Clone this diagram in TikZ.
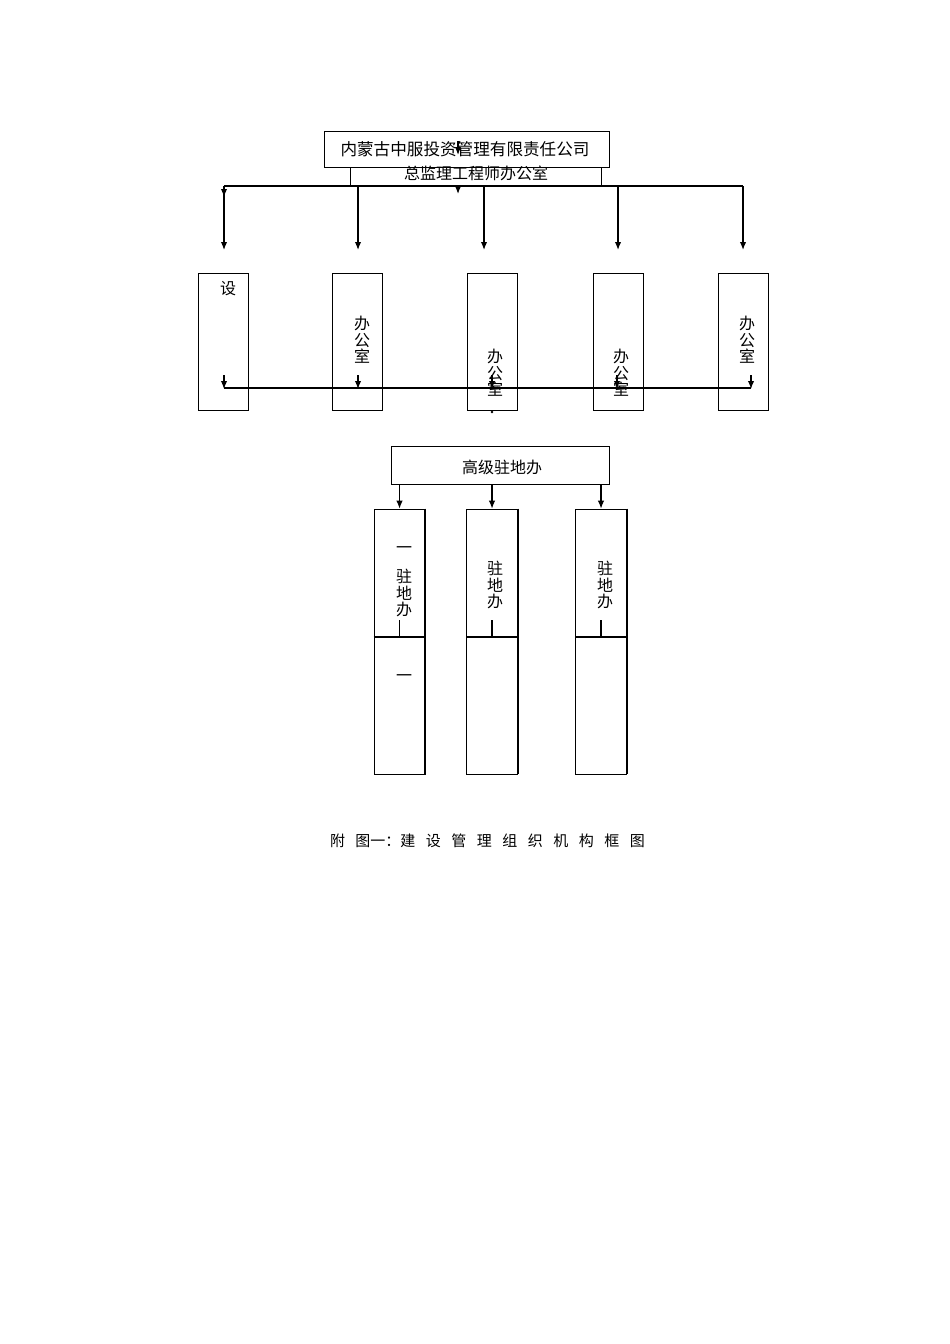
\documentclass[tikz,border=0pt]{standalone}
\usepackage{fontspec}
\newfontfamily\cjk{Noto Sans CJK SC}
\usetikzlibrary{positioning}
\usetikzlibrary{arrows.meta}
\tikzset{
    mybox/.style = {rectangle, line width=0.6pt, draw=black, fill=white, inner sep=0pt},
    mytext/.style = {inner sep=0pt, align=center, font=\cjk\fontsize{16}{16.5}\selectfont, text=black},
    mytextl/.style = {inner sep=0pt, align=center, font=\cjk\fontsize{16.6}{17}\selectfont, text=black},
    mytextc/.style = {inner sep=0pt, align=center, font=\cjk\fontsize{15}{16}\selectfont, text=black},
    edgen/.style = {-, line width=0.8pt, black},
    edgea/.style = {-{Latex[length=5pt,width=4pt]}, line width=0.8pt, black},
    edgeb/.style = {-, line width=1.4pt, black}, % bus
}
\newcommand{\cgap}{\hspace{0.7em}}

\begin{document}
\begin{tikzpicture}[x=1pt,y=-1pt,scale=0.6263,transform shape]
\useasboundingbox (0,0) rectangle (950,1344);

% top boxes
\node[mybox, minimum width=251, minimum height=19] at (475.5,176.5) (zj) {};
\node[mybox, minimum width=285, minimum height=36] at (466.5,149) (co) {};
\node[mytextl] at (465,149) (cot) {内蒙古中服投资管理有限责任公司};
\node[mytext] at (476,173) (zjt) {总监理工程师办公室};
\coordinate (m1) at (458,141);
\coordinate (m2) at (458,155);
\coordinate (m3) at (458,186);
\coordinate (m4) at (458,194);
\draw[edgea] (m1) -- (m2);
\draw[edgea] (m3) -- (m4);

% fan out
\coordinate (h1) at (224,186);
\coordinate (h5) at (743,186);
\draw[edgen] (h1) -- (h5);
\foreach \x/\n in {224/1,358/2,484/3,618/4,743/5} {
    \coordinate (h\n) at (\x,186);
    \coordinate (e\n) at (\x,250);
    \draw[edgea] (h\n) -- (e\n);
}
\coordinate (k1) at (224,197);
\draw[edgea] (h1) -- (k1);

% row of offices
\foreach \x/\n in {223/1,357/2,492/3,618/4,743/5} {
    \node[mybox, minimum width=50, minimum height=137] at (\x,341.5) (b\n) {};
}
\node[mytext] at (228,289) (b1t) {设};
\node[mytext] at (362,340) (b2t) {办\\公\\室};
\node[mytext] at (495,373) (b3t) {办\\公\\室};
\node[mytext] at (621,373) (b4t) {办\\公\\室};
\node[mytext] at (747,340) (b5t) {办\\公\\室};

% lower bus
\coordinate (g1) at (224,388);
\coordinate (g5) at (751,388);
\draw[edgeb] (g1) -- (g5);
\foreach \x/\n in {224/1,358/2,492/3,617/4,751/5} {
    \coordinate (f\n) at (\x,375);
    \coordinate (u\n) at (\x,389);
    \draw[edgea] (f\n) -- (u\n);
}
\fill (492,412) circle (1.3);

% senior office
\node[mybox, minimum width=218, minimum height=38] at (500,465) (gj) {};
\node[mytext] at (502,467) (gjt) {高级驻地办};
\foreach \x/\n in {399.5/1,492/2,601/3} {
    \node[mybox, minimum width=51, minimum height=265] at (\x,641.5) (z\n) {};
    \coordinate (p\n) at (\x,484);
    \draw[edgea] (p\n) -- (z\n.north);
}
\coordinate (dv) at (0,637);
\coordinate (sv) at (0,620);
\foreach \n in {1,2,3} {
    \draw[edgeb] (z\n.west |- dv) -- (z\n.east |- dv);
    \draw[edgeb] (z\n.north east) -- (z\n.south east);
    \draw[edgen] (z\n.center |- sv) -- (z\n.center |- dv);
}
\node[mytext] at (404,550) (z1a) {一};
\node[mytext] at (404,593) (z1t) {驻\\地\\办};
\node[mytext] at (404,678) (z1b) {一};
\node[mytext] at (495,585) (z2t) {驻\\地\\办};
\node[mytext] at (605,585) (z3t) {驻\\地\\办};

% caption
\node[mytextc] at (487.5,841) (cap) {附\cgap 图一：建\cgap 设\cgap 管\cgap 理\cgap 组\cgap 织\cgap 机\cgap 构\cgap 框\cgap 图};

\end{tikzpicture}
\end{document}
